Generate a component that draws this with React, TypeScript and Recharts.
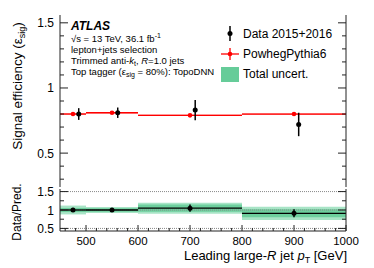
import React from "react";
import {
  ComposedChart,
  Scatter,
  ErrorBar,
  XAxis,
  YAxis,
  ReferenceArea,
  ReferenceLine,
} from "recharts";

// binning in leading large-R jet pT [GeV]
const binLow = [450, 500, 600, 800];
const binHigh = [500, 600, 800, 1000];
const binCenter = [475, 550, 700, 900];
const binHalf = [25, 50, 100, 100];
// data points are drawn slightly shifted to the right for visibility
const dataX = [486, 561, 710, 909];

const dataEff = [0.8, 0.81, 0.83, 0.72];
const dataErr = [0.045, 0.04, 0.077, 0.09];
const mcEff = [0.8, 0.81, 0.79, 0.8];
const mcErr = [0.006, 0.006, 0.006, 0.006];

const ratioVal = [1.0, 1.0, 1.05, 0.91];
const ratioStat = [0.056, 0.05, 0.097, 0.11];
const ratioTotal = [0.12, 0.08, 0.15, 0.18];

const xTicks = [460, 480, 500, 520, 540, 560, 580, 600, 620, 640, 660, 680, 700, 720, 740, 760, 780, 800, 820, 840, 860, 880, 900, 920, 940, 960, 980, 1000];
const effTicks = [0.3, 0.4, 0.5, 0.6, 0.7, 0.8, 0.9, 1.0, 1.1, 1.2, 1.3, 1.4, 1.5];
const ratioTicks = [0.5, 0.75, 1.0, 1.25, 1.5];

const dataPts = dataX.map((x, i) => ({ x, y: dataEff[i], ey: dataErr[i] }));
const mcPts = binCenter.map((x, i) => ({ x, y: mcEff[i], ex: binHalf[i] }));
const ratioPts = binCenter.map((x, i) => ({
  x,
  y: ratioVal[i],
  ex: binHalf[i],
  ey: ratioStat[i],
}));

const FONT = "'Liberation Sans', Arial, Helvetica, sans-serif";
const FRAME = "#222";

const isMult = (v: number, step: number) =>
  Math.abs(v / step - Math.round(v / step)) < 1e-6;

const fmt = (v: number) => (isMult(v, 1) ? String(Math.round(v)) : String(v));

// ticks drawn inward, ROOT style
function makeTick(side: "left" | "right" | "bottom" | "top", majorStep: number, long: number, short: number, labels: boolean) {
  return (props: any) => {
    const { x, y, payload } = props;
    const v = payload.value;
    const major = isMult(v, majorStep);
    const len = major ? long : short;
    let line;
    if (side === "left") line = <line x1={x} x2={x + len} y1={y} y2={y} stroke={FRAME} />;
    else if (side === "right") line = <line x1={x} x2={x - len} y1={y} y2={y} stroke={FRAME} />;
    else if (side === "bottom") line = <line x1={x} x2={x} y1={y} y2={y - len} stroke={FRAME} />;
    else line = <line x1={x} x2={x} y1={y} y2={y + len} stroke={FRAME} />;
    return (
      <g>
        {line}
        {labels && major && side === "left" && (
          <text x={x - 6} y={y + 4.5} textAnchor="end" fontSize={12} fontFamily={FONT} fill="#000">
            {fmt(v)}
          </text>
        )}
        {labels && major && side === "bottom" && (
          <text x={x} y={y + 14} textAnchor="middle" fontSize={11.5} fontFamily={FONT} fill="#000">
            {fmt(v)}
          </text>
        )}
      </g>
    );
  };
}

const dot = (color: string, r: number) => (p: any) => (
  <circle cx={p.cx} cy={p.cy} r={r} fill={color} />
);

export default function App() {
  return (
    <div style={{ position: "absolute", left: 0, top: 0, width: 374, height: 268, background: "#fff" }}>
      {/* upper panel: efficiency */}
      <div style={{ position: "absolute", left: 0, top: 0 }}>
        <ComposedChart width={374} height={190} margin={{ top: 15, right: 0, bottom: 3, left: 0 }}>
          <XAxis xAxisId="b" type="number" dataKey="x" domain={[450, 1000]} ticks={xTicks} interval={0}
            allowDataOverflow orientation="bottom" height={0} tickSize={0} tickMargin={0} tickLine={false}
            axisLine={{ stroke: FRAME }} tick={makeTick("bottom", 100, 6, 3, false)} />
          <XAxis xAxisId="t" type="number" dataKey="x" domain={[450, 1000]} ticks={xTicks} interval={0}
            allowDataOverflow orientation="top" height={0} tickSize={0} tickMargin={0} tickLine={false}
            axisLine={{ stroke: FRAME }} tick={makeTick("top", 100, 6, 3, false)} />
          <YAxis yAxisId="l" type="number" domain={[0.24, 1.56]} ticks={effTicks} interval={0}
            allowDataOverflow width={60} tickSize={0} tickMargin={0} tickLine={false}
            axisLine={{ stroke: FRAME }} tick={makeTick("left", 0.5, 8, 4, true)} />
          <YAxis yAxisId="r" orientation="right" type="number" domain={[0.24, 1.56]} ticks={effTicks} interval={0}
            allowDataOverflow width={28} tickSize={0} tickMargin={0} tickLine={false}
            axisLine={{ stroke: FRAME }} tick={makeTick("right", 0.5, 8, 4, false)} />

          {binLow.map((lo, i) => (
            <ReferenceArea key={"mcb" + i} xAxisId="b" yAxisId="l" x1={lo} x2={binHigh[i]}
              y1={mcEff[i] - mcErr[i]} y2={mcEff[i] + mcErr[i]} fill="#ff9a9a" fillOpacity={1} stroke="none" />
          ))}

          <Scatter xAxisId="b" yAxisId="l" data={mcPts} dataKey="y" isAnimationActive={false} shape={dot("#ff0000", 2.3)}>
            <ErrorBar dataKey="ex" direction="x" width={0} stroke="#ff0000" strokeWidth={1.3} />
          </Scatter>
          <Scatter xAxisId="b" yAxisId="l" data={dataPts} dataKey="y" isAnimationActive={false} shape={dot("#000", 2.5)}>
            <ErrorBar dataKey="ey" direction="y" width={0} stroke="#000" strokeWidth={1.5} />
          </Scatter>
        </ComposedChart>
      </div>

      {/* lower panel: data / prediction */}
      <div style={{ position: "absolute", left: 0, top: 180 }}>
        <ComposedChart width={374} height={88} margin={{ top: 9, right: 0, bottom: 0, left: 0 }}>
          <XAxis xAxisId="b" type="number" dataKey="x" domain={[450, 1000]} ticks={xTicks} interval={0}
            allowDataOverflow orientation="bottom" height={37} tickSize={0} tickMargin={0} tickLine={false}
            axisLine={{ stroke: FRAME }} tick={makeTick("bottom", 100, 6, 3, true)} />
          <XAxis xAxisId="t" type="number" dataKey="x" domain={[450, 1000]} ticks={xTicks} interval={0}
            allowDataOverflow orientation="top" height={0} tickSize={0} tickMargin={0} tickLine={false}
            axisLine={{ stroke: FRAME }} tick={makeTick("top", 100, 6, 3, false)} />
          <YAxis yAxisId="l" type="number" domain={[0.43, 1.57]} ticks={ratioTicks} interval={0}
            allowDataOverflow width={60} tickSize={0} tickMargin={0} tickLine={false}
            axisLine={{ stroke: FRAME }} tick={makeTick("left", 0.5, 8, 4, true)} />
          <YAxis yAxisId="r" orientation="right" type="number" domain={[0.43, 1.57]} ticks={ratioTicks} interval={0}
            allowDataOverflow width={28} tickSize={0} tickMargin={0} tickLine={false}
            axisLine={{ stroke: FRAME }} tick={makeTick("right", 0.5, 8, 4, false)} />

          {binLow.map((lo, i) => (
            <ReferenceArea key={"tot" + i} xAxisId="b" yAxisId="l" x1={lo} x2={binHigh[i]}
              y1={ratioVal[i] - ratioTotal[i]} y2={ratioVal[i] + ratioTotal[i]} fill="#a8e4c6" fillOpacity={1} stroke="none" />
          ))}
          {binLow.map((lo, i) => (
            <ReferenceArea key={"st" + i} xAxisId="b" yAxisId="l" x1={lo} x2={binHigh[i]}
              y1={ratioVal[i] - ratioStat[i]} y2={ratioVal[i] + ratioStat[i]} fill="#6dcf9d" fillOpacity={1} stroke="none" />
          ))}
          {[0.5, 1, 1.5].map((v) => (
            <ReferenceLine key={"rl" + v} xAxisId="b" yAxisId="l" y={v} stroke="#888" strokeDasharray="1 1" />
          ))}

          <Scatter xAxisId="b" yAxisId="l" data={ratioPts} dataKey="y" isAnimationActive={false} shape={dot("#000", 2.5)}>
            <ErrorBar dataKey="ex" direction="x" width={0} stroke="#000" strokeWidth={1.3} />
            <ErrorBar dataKey="ey" direction="y" width={0} stroke="#000" strokeWidth={1.5} />
          </Scatter>
        </ComposedChart>
      </div>

      {/* texts and legend */}
      <svg width={374} height={268} style={{ position: "absolute", left: 0, top: 0, pointerEvents: "none" }} fontFamily={FONT}>
        <text x={22} y={86} transform="rotate(-90 22 86)" textAnchor="middle" fontSize={13.5}>
          Signal efficiency (ε<tspan fontSize={9} dy={3}>sig</tspan><tspan dy={-3}>)</tspan>
        </text>
        <text x={21} y={212} transform="rotate(-90 21 212)" textAnchor="middle" fontSize={12}>
          Data/Pred.
        </text>
        <text x={347} y={259.5} textAnchor="end" fontSize={13}>
          Leading large-<tspan fontStyle="italic">R</tspan> jet <tspan fontStyle="italic">p</tspan>
          <tspan fontSize={9} dy={3}>T</tspan>
          <tspan dy={-3}> [GeV]</tspan>
        </text>

        <text x={71} y={30} fontSize={12} fontWeight="bold" fontStyle="italic">ATLAS</text>
        <text x={71} y={42} fontSize={9.5}>
          √s = 13 TeV, 36.1 fb<tspan fontSize={7} dy={-4}>-1</tspan>
        </text>
        <text x={71} y={53} fontSize={9.5}>lepton+jets selection</text>
        <text x={71} y={64} fontSize={9.5}>
          Trimmed anti-<tspan fontStyle="italic">k</tspan>
          <tspan fontSize={7} dy={2}>t</tspan>
          <tspan dy={-2}>, </tspan>
          <tspan fontStyle="italic">R</tspan>=1.0 jets
        </text>
        <text x={71} y={75} fontSize={9.5}>
          Top tagger (ε<tspan fontSize={7} dy={2}>sig</tspan>
          <tspan dy={-2}> = 80%): TopoDNN</tspan>
        </text>

        <line x1={230} x2={230} y1={26} y2={41} stroke="#000" strokeWidth={1.5} />
        <circle cx={230} cy={33.5} r={2.5} fill="#000" />
        <text x={243} y={38} fontSize={12}>Data 2015+2016</text>

        <line x1={221} x2={239} y1={54} y2={54} stroke="#ff0000" strokeWidth={1.3} />
        <line x1={230} x2={230} y1={48} y2={60} stroke="#ff0000" strokeWidth={1.3} />
        <circle cx={230} cy={54} r={2.3} fill="#ff0000" />
        <text x={243} y={58} fontSize={12}>PowhegPythia6</text>

        <rect x={221} y={67} width={18} height={15} fill="#66cc99" />
        <text x={243} y={78} fontSize={12}>Total uncert.</text>
      </svg>
    </div>
  );
}
